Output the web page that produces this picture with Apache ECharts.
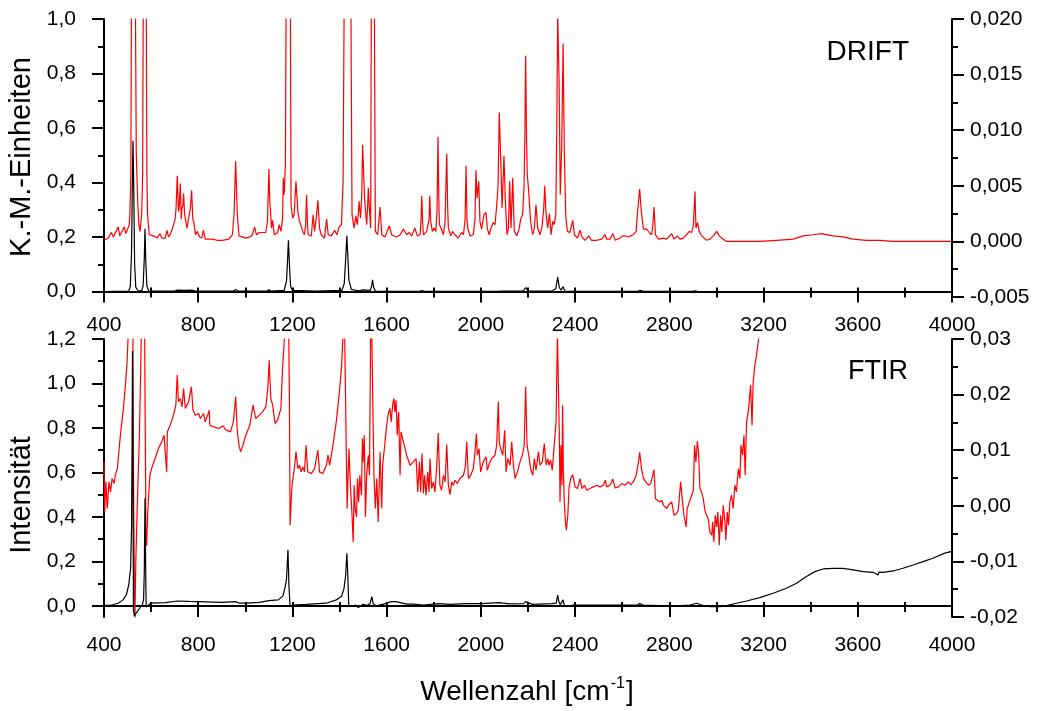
<!DOCTYPE html>
<html>
<head>
<meta charset="utf-8">
<script src="https://cdn.jsdelivr.net/npm/echarts@6/dist/echarts.min.js"></script>
<style>
html,body{margin:0;padding:0;background:#fff;}
#chart{width:1037px;height:711px;}
</style>
</head>
<body>
<div id="chart"></div>
<script>
// ---------- data (x = Wellenzahl cm^-1, y = axis units) ----------
const driftBlack = [[400,0],[505,0.002],[512,0.02],[517,0.15],[521,0.45],[523,0.553],[526,0.40],[530,0.10],[535,0.015],[545,0.003],[560,0.003],[566,0.02],[571,0.12],[574,0.23],[577,0.12],[582,0.02],[590,0.002],[700,0.002],[711,0.005],[740,0.004],[773,0.005],[790,0.002],[950,0.002],[959,0.008],[968,0.002],[1090,0.002],[1100,0.006],[1110,0.002],[1165,0.004],[1175,0.04],[1180,0.13],[1183,0.188],[1187,0.10],[1192,0.02],[1200,0.004],[1300,0.002],[1410,0.004],[1420,0.03],[1426,0.12],[1431,0.205],[1435,0.13],[1440,0.04],[1450,0.008],[1480,0.003],[1500,0.006],[1530,0.004],[1536,0.02],[1540,0.043],[1545,0.015],[1552,0.002],[1740,0.001],[1749,0.004],[1760,0.001],[1810,0.001],[1818,0.005],[1830,0.001],[1848,0.001],[1855,0.004],[1870,0.001],[1972,0.001],[1979,0.004],[1990,0.001],[2070,0.001],[2078,0.007],[2090,0.002],[2180,0.002],[2190,0.015],[2200,0.002],[2300,0.002],[2318,0.01],[2326,0.054],[2333,0.015],[2340,0.005],[2349,0.018],[2356,0.002],[2500,0.001],[2665,0.001],[2674,0.004],[2690,0.001],[2900,0.001],[2909,0.003],[2920,0.001],[4000,0]];

const driftRed = [[400,0.0001],[418,0.0003],[431,0.0008],[440,0.0004],[460,0.0013],[467,0.0005],[474,0.0006],[486,0.0013],[493,0.0007],[500,0.0011],[507,0.0015],[510,0.0024],[514,0.006],[518,0.03],[531,0.03],[537,0.008],[543,0.0036],[548,0.0015],[553,0.0009],[560,0.0025],[564,0.006],[568,0.03],[578,0.03],[582,0.006],[585,0.0024],[592,0.0006],[610,0.0005],[625,0.0003],[638,0.0007],[645,0.0003],[652,0.0004],[660,0.0003],[667,0.001],[674,0.0004],[681,0.0006],[691,0.0012],[702,0.002],[706,0.003],[711,0.0059],[716,0.0027],[719,0.003],[724,0.0052],[728,0.002],[731,0.003],[735,0.0032],[738,0.0043],[742,0.0025],[745,0.0021],[752,0.0012],[762,0.0024],[767,0.003],[772,0.0046],[777,0.002],[781,0.0018],[788,0.0006],[796,0.0009],[806,0.0004],[815,0.0003],[822,0.001],[830,0.0002],[859,0.0002],[880,0.0001],[902,0.0001],[930,0.0002],[945,0.0006],[952,0.0024],[959,0.0072],[966,0.0024],[973,0.0005],[1002,0.0003],[1020,0.0004],[1030,0.0006],[1039,0.0013],[1047,0.0006],[1059,0.0008],[1070,0.0008],[1087,0.0008],[1094,0.0018],[1100,0.0065],[1104,0.0035],[1107,0.0027],[1111,0.0012],[1116,0.0019],[1123,0.0006],[1137,0.0008],[1144,0.0015],[1151,0.0009],[1158,0.002],[1161,0.0057],[1165,0.0042],[1170,0.0069],[1175,0.03],[1190,0.03],[1194,0.0033],[1201,0.0021],[1207,0.0024],[1215,0.0054],[1223,0.0027],[1230,0.0018],[1237,0.0019],[1244,0.0009],[1251,0.0006],[1256,0.0015],[1260,0.0042],[1264,0.0015],[1267,0.0006],[1280,0.0005],[1288,0.0024],[1294,0.0009],[1301,0.0021],[1308,0.0037],[1315,0.0012],[1322,0.0006],[1336,0.0003],[1345,0.002],[1352,0.0006],[1365,0.0005],[1379,0.001],[1389,0.0006],[1398,0.0013],[1408,0.0015],[1415,0.0054],[1422,0.03],[1446,0.03],[1453,0.0024],[1462,0.0012],[1469,0.0023],[1475,0.0015],[1480,0.0026],[1483,0.0036],[1489,0.0021],[1494,0.004],[1498,0.0087],[1503,0.0087],[1506,0.004],[1509,0.003],[1515,0.0015],[1519,0.003],[1522,0.0048],[1528,0.0025],[1532,0.0012],[1536,0.03],[1546,0.03],[1552,0.0009],[1562,0.0006],[1572,0.0031],[1579,0.0006],[1593,0.0004],[1611,0.0014],[1621,0.0006],[1642,0.0004],[1657,0.0006],[1671,0.0011],[1685,0.0006],[1696,0.0008],[1706,0.0005],[1720,0.0012],[1730,0.0005],[1742,0.0006],[1746,0.002],[1749,0.0041],[1753,0.0015],[1756,0.0006],[1770,0.0009],[1780,0.002],[1783,0.0041],[1787,0.0018],[1794,0.0009],[1801,0.0012],[1809,0.0009],[1814,0.003],[1818,0.0094],[1822,0.003],[1824,0.0015],[1831,0.0012],[1841,0.0006],[1848,0.0018],[1855,0.0079],[1859,0.003],[1862,0.0012],[1872,0.0005],[1880,0.0009],[1890,0.0006],[1904,0.0003],[1918,0.0008],[1926,0.0006],[1933,0.002],[1937,0.0068],[1941,0.002],[1944,0.0012],[1954,0.0005],[1968,0.0006],[1975,0.002],[1979,0.0064],[1984,0.0039],[1991,0.0054],[1996,0.0018],[2003,0.0011],[2013,0.0024],[2022,0.0026],[2027,0.0012],[2035,0.0006],[2043,0.0012],[2053,0.0017],[2060,0.0015],[2067,0.0032],[2073,0.0051],[2078,0.0116],[2084,0.0075],[2090,0.003],[2098,0.0077],[2104,0.0036],[2111,0.0006],[2117,0.0012],[2122,0.0054],[2128,0.0012],[2135,0.0057],[2142,0.0009],[2152,0.0005],[2162,0.0011],[2169,0.002],[2177,0.0024],[2183,0.0048],[2187,0.01],[2190,0.0167],[2194,0.009],[2197,0.006],[2203,0.0045],[2211,0.0018],[2220,0.0006],[2227,0.0012],[2234,0.0033],[2241,0.0012],[2251,0.0006],[2260,0.0014],[2267,0.003],[2271,0.005],[2277,0.0024],[2284,0.0012],[2291,0.0025],[2298,0.0006],[2305,0.0018],[2311,0.0015],[2318,0.0024],[2322,0.0099],[2326,0.0205],[2329,0.0205],[2332,0.0144],[2337,0.0042],[2343,0.0084],[2349,0.0178],[2354,0.0084],[2360,0.0024],[2367,0.0009],[2378,0.0008],[2390,0.0019],[2397,0.0006],[2410,0.0003],[2421,0.001],[2429,0.0004],[2442,0.0001],[2458,0.0005],[2469,0.0001],[2492,0.0001],[2513,0.0002],[2527,0.0006],[2534,0.0002],[2548,0.0002],[2560,0.0007],[2570,0.0001],[2591,0.0003],[2602,0.0005],[2612,0.0005],[2626,0.0004],[2636,0.0005],[2647,0.0006],[2659,0.0009],[2664,0.0024],[2674,0.0047],[2681,0.0027],[2690,0.0011],[2704,0.0011],[2715,0.0008],[2725,0.0006],[2730,0.0015],[2735,0.0031],[2741,0.0006],[2754,0.0002],[2775,0.0003],[2789,0.0002],[2810,0.0007],[2820,0.0002],[2834,0.0005],[2845,0.0002],[2859,0.0003],[2873,0.0006],[2885,0.0009],[2895,0.0008],[2902,0.0015],[2909,0.0045],[2913,0.0012],[2920,0.0017],[2927,0.0009],[2937,0.0005],[2958,0.0001],[2972,0.0002],[2987,0.0005],[3001,0.0009],[3012,0.0005],[3029,0.0002],[3043,0],[3114,0],[3184,0],[3255,0.0001],[3326,0.0002],[3368,0.0005],[3411,0.0006],[3446,0.0007],[3495,0.0005],[3538,0.0004],[3580,0.0002],[3637,0.0001],[3693,0.0001],[3750,0],[3820,0],[3891,0],[4000,0]];

const ftirBlack = [[400,0.002],[431,0.004],[460,0.012],[481,0.027],[495,0.05],[505,0.094],[513,0.17],[517,0.35],[519,0.7],[521,1.146],[523,0.6],[525,-0.02],[529,-0.045],[535,-0.035],[545,-0.02],[555,-0.005],[563,0.005],[568,0.03],[571,0.15],[574,0.484],[577,0.15],[579,-0.005],[581,-0.01],[590,0.005],[600,0.012],[660,0.015],[711,0.022],[760,0.02],[802,0.019],[900,0.016],[959,0.019],[975,0.012],[1002,0.012],[1059,0.016],[1100,0.024],[1140,0.027],[1160,0.045],[1170,0.09],[1175,0.124],[1181,0.252],[1185,0.094],[1190,-0.003],[1201,0.004],[1258,0.007],[1344,0.012],[1386,0.027],[1408,0.042],[1419,0.079],[1426,0.139],[1431,0.237],[1435,0.14],[1439,0.004],[1451,-0.003],[1466,0.004],[1480,-0.007],[1500,0.007],[1515,0.002],[1530,0.01],[1537,0.042],[1543,0.01],[1557,0],[1586,0.008],[1609,0.016],[1621,0.019],[1640,0.019],[1657,0.015],[1685,0.008],[1713,0.008],[1756,0.004],[1819,0.01],[1870,0.007],[1940,0.01],[2000,0.01],[2078,0.015],[2120,0.009],[2180,0.01],[2190,0.019],[2220,0.007],[2300,0.01],[2320,0.012],[2326,0.049],[2331,0.02],[2337,0.005],[2349,0.027],[2354,0.002],[2364,-0.003],[2390,0.004],[2492,0.004],[2560,0.004],[2665,0.005],[2674,0.01],[2690,0.004],[2760,0.0015],[2831,0],[2888,0.004],[2916,0.012],[2937,0.004],[2972,-0.003],[3015,-0.003],[3043,0.0015],[3085,0.012],[3128,0.022],[3184,0.037],[3241,0.057],[3297,0.079],[3340,0.102],[3382,0.132],[3418,0.154],[3453,0.166],[3495,0.169],[3538,0.169],[3580,0.162],[3623,0.154],[3665,0.151],[3686,0.139],[3690,0.152],[3707,0.151],[3750,0.157],[3792,0.169],[3835,0.184],[3877,0.199],[3919,0.214],[3969,0.237],[4000,0.245]];

const ftirRed = [[400,0.0079],[403,-0.0011],[408,0.0043],[414,-0.0005],[421,0.0043],[428,0.0025],[434,0.0049],[443,0.004],[448,0.0055],[457,0.0067],[463,0.0097],[471,0.0133],[481,0.0169],[491,0.0217],[498,0.0259],[503,0.031],[512,0.04],[522,0.04],[526,0],[531,-0.021],[535,-0.01],[543,0.0025],[550,0.012],[556,0.025],[560,0.035],[572,0.035],[578,-0.005],[581,-0.0072],[585,-0.002],[588,0.0007],[595,0.0055],[602,0.0067],[617,0.0085],[631,0.0103],[645,0.0115],[655,0.0127],[662,0.013],[666,0.0061],[669,0.0133],[681,0.0145],[695,0.0163],[705,0.0181],[711,0.0235],[716,0.0187],[724,0.0193],[731,0.0178],[738,0.0211],[745,0.0175],[752,0.0178],[759,0.0187],[771,0.0214],[778,0.0172],[788,0.0163],[802,0.0166],[809,0.0157],[823,0.0166],[830,0.0151],[847,0.0172],[849,0.0145],[866,0.0142],[888,0.0139],[905,0.0144],[916,0.0137],[937,0.0133],[949,0.0151],[959,0.0196],[966,0.0133],[973,0.0109],[980,0.0097],[990,0.0109],[1002,0.0127],[1019,0.0145],[1033,0.0181],[1044,0.0157],[1059,0.0163],[1073,0.0169],[1087,0.0178],[1096,0.0214],[1101,0.0262],[1108,0.0193],[1116,0.0181],[1126,0.0148],[1137,0.0154],[1151,0.0175],[1158,0.0247],[1167,0.031],[1172,0.036],[1183,0.036],[1187,0.02],[1190,-0.0035],[1198,0.0037],[1208,0.0067],[1215,0.0097],[1223,0.0067],[1230,0.0073],[1237,0.0061],[1244,0.007],[1251,0.0061],[1258,0.0109],[1265,0.0061],[1280,0.0058],[1294,0.0067],[1308,0.01],[1315,0.0061],[1329,0.0058],[1344,0.0073],[1351,0.0091],[1358,0.0073],[1372,0.0109],[1386,0.0151],[1398,0.0199],[1408,0.0247],[1415,0.031],[1420,0.036],[1428,0.036],[1432,-0.0005],[1440,0.0103],[1446,0.0037],[1453,-0.0017],[1458,-0.0065],[1462,0.0037],[1466,-0.0005],[1472,-0.002],[1476,0.0049],[1481,0.0007],[1486,0.0055],[1493,0.0019],[1497,0.0121],[1500,0.0079],[1505,0.0127],[1508,0.0037],[1510,-0.002],[1515,0.0055],[1522,0.0091],[1527,0.0055],[1532,0.031],[1535,0.036],[1543,0.036],[1546,0.0055],[1552,-0.0005],[1558,0.0049],[1564,-0.0029],[1572,0.0097],[1579,-0.0005],[1583,0.0073],[1593,0.0115],[1600,0.0145],[1607,0.0166],[1614,0.0175],[1619,0.0151],[1626,0.0184],[1631,0.0193],[1635,0.0169],[1640,0.019],[1645,0.0127],[1651,0.0169],[1657,0.0055],[1661,0.0133],[1671,0.0115],[1685,0.0091],[1699,0.0073],[1713,0.0079],[1725,0.0085],[1732,0.0025],[1739,0.0079],[1744,0.0025],[1750,0.0094],[1756,0.0022],[1761,0.0055],[1767,0.0019],[1774,0.0061],[1780,0.0025],[1784,0.0085],[1791,0.0031],[1798,0.0043],[1805,0.0025],[1812,0.0067],[1819,0.0131],[1826,0.0037],[1833,0.0028],[1841,0.0055],[1848,0.0043],[1855,0.011],[1862,0.0037],[1869,0.002],[1876,0.0043],[1883,0.0037],[1890,0.0046],[1900,0.004],[1911,0.0049],[1926,0.0055],[1934,0.007],[1940,0.0115],[1947,0.0049],[1957,0.0055],[1968,0.0067],[1975,0.0097],[1981,0.013],[1985,0.0091],[1992,0.0103],[1999,0.0061],[2010,0.0079],[2022,0.0088],[2027,0.0064],[2036,0.0076],[2046,0.0085],[2060,0.0091],[2067,0.0109],[2074,0.0187],[2078,0.0115],[2084,0.0103],[2093,0.0091],[2101,0.0136],[2107,0.0061],[2114,0.0085],[2124,0.0073],[2131,0.0115],[2138,0.0073],[2145,0.0049],[2155,0.0061],[2166,0.0079],[2176,0.0091],[2184,0.0109],[2190,0.0214],[2196,0.0109],[2203,0.0091],[2211,0.0067],[2220,0.0055],[2227,0.0085],[2234,0.0064],[2244,0.0097],[2251,0.0073],[2261,0.0079],[2269,0.0112],[2277,0.0073],[2284,0.0085],[2289,0.0073],[2296,0.0082],[2303,0.0064],[2309,0.0097],[2315,0.01],[2319,0.015],[2325,0.031],[2329,0.031],[2333,0.0127],[2336,0.0007],[2340,0.0109],[2344,0.0037],[2347,0.0181],[2350,0.0067],[2354,0.0007],[2359,-0.0029],[2363,-0.0044],[2369,-0.0017],[2374,0.0031],[2381,0.0049],[2390,0.0056],[2400,0.0034],[2410,0.0031],[2421,0.0049],[2429,0.0031],[2440,0.0037],[2449,0.0028],[2463,0.0031],[2477,0.0034],[2492,0.0037],[2506,0.0034],[2520,0.0037],[2528,0.0046],[2534,0.0034],[2548,0.0037],[2560,0.0048],[2570,0.0032],[2584,0.0034],[2598,0.004],[2612,0.0037],[2626,0.0043],[2637,0.0038],[2647,0.0043],[2659,0.0055],[2669,0.0079],[2674,0.0096],[2682,0.0067],[2690,0.0049],[2701,0.0043],[2711,0.0037],[2721,0.004],[2729,0.0043],[2735,0.0065],[2741,0.0013],[2749,0.001],[2758,0.0007],[2768,0.001],[2775,0.0001],[2789,-0.0005],[2796,0.0001],[2810,0.0007],[2820,-0.0017],[2831,-0.0014],[2838,-0.0008],[2848,0.0043],[2856,0.0007],[2862,-0.0017],[2871,-0.0038],[2876,-0.0005],[2885,0.0007],[2895,0.0019],[2902,0.0028],[2907,0.0109],[2913,0.0079],[2919,0.0116],[2924,0.0097],[2930,0.0031],[2937,0.0025],[2944,0.0013],[2951,-0.0008],[2958,-0.0017],[2965,-0.0023],[2972,-0.0047],[2980,-0.0053],[2984,-0.0029],[2989,-0.0065],[2995,-0.0017],[3001,-0.0038],[3006,-0.0011],[3012,-0.0071],[3018,-0.0017],[3023,-0.0047],[3029,0.0001],[3036,-0.0029],[3040,-0.0062],[3046,-0.0011],[3051,-0.0035],[3057,0.0007],[3064,0.0019],[3071,-0.0005],[3078,0.0037],[3085,0.0025],[3093,0.0067],[3100,0.0049],[3104,0.0109],[3111,0.0091],[3117,0.0127],[3122,0.0055],[3128,0.0151],[3135,0.0169],[3139,0.0187],[3145,0.0217],[3151,0.0145],[3156,0.0223],[3163,0.0253],[3170,0.0271],[3179,0.03],[3186,0.033]];

// tick values
const xRange = [400, 4000];
const xInterval = 400;
const driftLeftMajor = [0, 0.2, 0.4, 0.6, 0.8, 1.0];
const driftLeftMinor = [0.1, 0.3, 0.5, 0.7, 0.9];
const driftLeftRange = [-0.02, 1.0];
const driftRightRange = [-0.005, 0.020];
const driftRightInterval = 0.005;
const ftirLeftMajor = [0, 0.2, 0.4, 0.6, 0.8, 1.0, 1.2];
const ftirLeftMinor = [0.1, 0.3, 0.5, 0.7, 0.9, 1.1];
const ftirLeftRange = [-0.05, 1.2];
const ftirRightRange = [-0.02, 0.03];
const ftirRightInterval = 0.01;

// ---------- styling ----------
const FONT = "'Liberation Sans', Arial, sans-serif";
const LBL = 21;
const axisLine = {show: true, lineStyle: {color: '#000', width: 2}};
const comma = (v, d) => v.toFixed(d).replace('.', ',').replace(/^-0,0+$/, m => m.slice(1));
const lblStyle = {color: '#000', fontSize: LBL, fontFamily: FONT};

const GL = 104, GW = 848;
const grids = [
  {left: GL, top: 19, width: GW, height: 278},
  {left: GL, top: 339, width: GW, height: 278}
];

function xAxes(g) {
  return [
    {type: 'value', gridIndex: g, position: 'bottom', min: xRange[0], max: xRange[1], interval: xInterval,
     axisLine: axisLine, splitLine: {show: false},
     axisTick: {show: true, length: 11, lineStyle: {color: '#000', width: 2}},
     minorTick: {show: true, splitNumber: 2, length: 6, lineStyle: {color: '#000', width: 2}},
     axisLabel: Object.assign({margin: 18, showMinLabel: true, showMaxLabel: true, formatter: v => String(v)}, lblStyle)},
    {type: 'value', gridIndex: g, position: 'top', min: xRange[0], max: xRange[1], interval: xInterval,
     axisLine: axisLine, splitLine: {show: false},
     axisTick: {show: true, length: 4, lineStyle: {color: '#000', width: 2}},
     minorTick: {show: true, splitNumber: 2, length: 4, lineStyle: {color: '#000', width: 2}},
     axisLabel: {show: false}}
  ];
}

function yAxesFor(g, lRange, lMajor, lMinor, rRange, rInt, rDec) {
  return [
    {type: 'value', gridIndex: g, position: 'left', min: lRange[0], max: lRange[1],
     axisLine: axisLine, splitLine: {show: false},
     axisTick: {show: true, length: 12, customValues: lMajor, lineStyle: {color: '#000', width: 2}},
     axisLabel: Object.assign({margin: 28, customValues: lMajor, formatter: v => comma(v, 1)}, lblStyle)},
    {type: 'value', gridIndex: g, position: 'left', min: lRange[0], max: lRange[1],
     axisLine: {show: false}, splitLine: {show: false},
     axisTick: {show: true, length: 6, customValues: lMinor, lineStyle: {color: '#000', width: 2}},
     axisLabel: {show: false}},
    {type: 'value', gridIndex: g, position: 'right', min: rRange[0], max: rRange[1], interval: rInt,
     axisLine: axisLine, splitLine: {show: false},
     axisTick: {show: true, length: 12, lineStyle: {color: '#000', width: 2}},
     minorTick: {show: true, splitNumber: 2, length: 6, lineStyle: {color: '#000', width: 2}},
     axisLabel: Object.assign({margin: 18, showMinLabel: true, showMaxLabel: true, formatter: v => comma(v, rDec)}, lblStyle)}
  ];
}

const line = (data, xi, yi, color, z) => ({
  type: 'line', data: data, xAxisIndex: xi, yAxisIndex: yi, showSymbol: false, symbol: 'none',
  clip: true, z: z, lineStyle: {color: color, width: 1.2}, itemStyle: {color: color}, animation: false
});

const option = {
  backgroundColor: '#fff',
  animation: false,
  grid: grids,
  xAxis: [...xAxes(0), ...xAxes(1)],
  yAxis: [
    ...yAxesFor(0, driftLeftRange, driftLeftMajor, driftLeftMinor, driftRightRange, driftRightInterval, 3),
    ...yAxesFor(1, ftirLeftRange, ftirLeftMajor, ftirLeftMinor, ftirRightRange, ftirRightInterval, 2)
  ],
  series: [
    line(driftRed, 0, 2, '#ff0000', 2),
    line(driftBlack, 0, 0, '#000000', 3),
    line(ftirRed, 2, 5, '#ff0000', 2),
    line(ftirBlack, 2, 3, '#000000', 3)
  ],
  graphic: [
    {type: 'text', x: 22, y: 157, rotation: Math.PI / 2,
     style: {text: 'K.-M.-Einheiten', fontSize: 29, fontFamily: FONT, fill: '#000', align: 'center', verticalAlign: 'middle'}},
    {type: 'text', x: 22, y: 495, rotation: Math.PI / 2,
     style: {text: 'Intensität', fontSize: 29, fontFamily: FONT, fill: '#000', align: 'center', verticalAlign: 'middle'}},
    {type: 'text', x: 909, y: 52,
     style: {text: 'DRIFT', fontSize: 28, fontFamily: FONT, fill: '#000', align: 'right', verticalAlign: 'middle'}},
    {type: 'text', x: 908, y: 372,
     style: {text: 'FTIR', fontSize: 27, fontFamily: FONT, fill: '#000', align: 'right', verticalAlign: 'middle'}},
    {type: 'text', x: 527, y: 690,
     style: {text: '{a|Wellenzahl [cm}{s|-1}{a|]}', align: 'center', verticalAlign: 'middle', fill: '#000',
       rich: {a: {fontSize: 28, fontFamily: FONT, fill: '#000', verticalAlign: 'bottom', lineHeight: 32},
              s: {fontSize: 16, fontFamily: FONT, fill: '#000', verticalAlign: 'bottom', lineHeight: 32, padding: [0, 1, 14, 1]}}}}
  ]
};

const chart = echarts.init(document.getElementById('chart'), null, {renderer: 'canvas'});
chart.setOption(option);
</script>
</body>
</html>
